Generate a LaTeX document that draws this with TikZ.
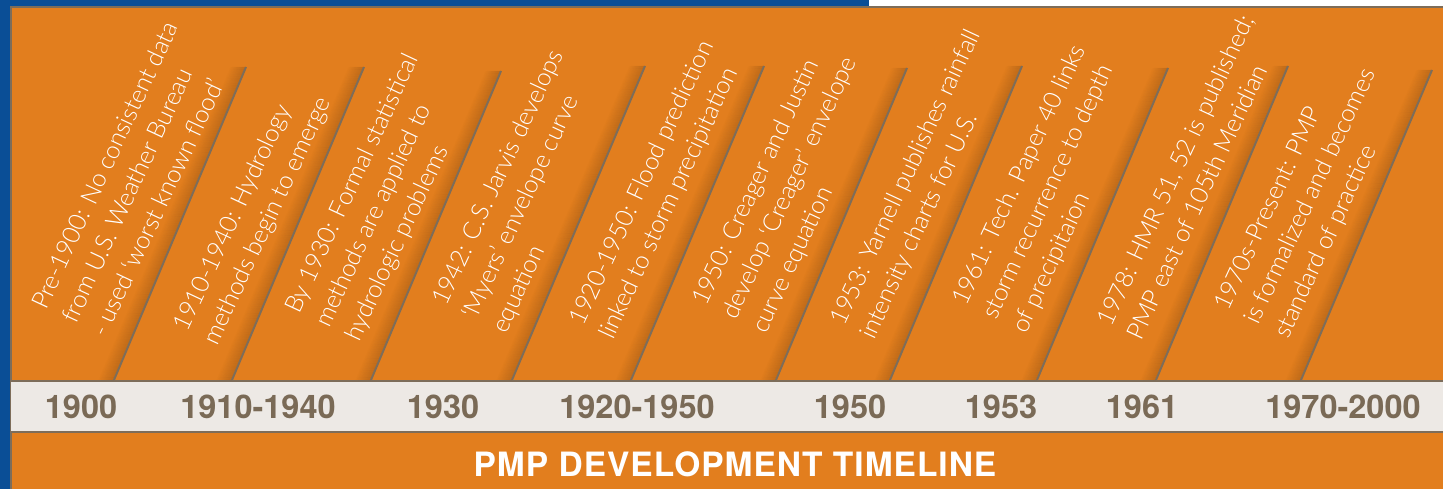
\documentclass[tikz,border=0pt]{standalone}
\usepackage{fontspec}
\usetikzlibrary{calc}
\newfontfamily\notefont{Lato Light}
\newfontfamily\headfont{TeX Gyre Heros}[UprightFont=*,BoldFont=* Bold]
\newfontfamily\titlefont{TeX Gyre Heros Bold}[LetterSpace=3]
\definecolor{frameblue}{HTML}{0A4E96}
\definecolor{panelorange}{HTML}{E27E1E}
\definecolor{rulegray}{HTML}{7D6D5A}
\definecolor{bandgray}{HTML}{EDE9E5}
\definecolor{yeargray}{HTML}{7A6A56}
\tikzset{
  % notes are anchored at the start of their last line
  note/.style={rotate=65, anchor=base west, inner sep=0pt, align=left,
    text=white, font=\notefont\fontsize{24.5}{33}\selectfont},
  year/.style={anchor=base, inner sep=0pt, text=yeargray,
    font=\headfont\bfseries\fontsize{32.5}{34}\selectfont},
  divider/.style={draw=rulegray, line width=2pt},
  title/.style={anchor=base, inner sep=0pt, text=white,
    font=\titlefont\fontsize{33.5}{36}\selectfont}
}
\begin{document}
\begin{tikzpicture}[x=1pt,y=-1pt]
  \useasboundingbox (0,0) rectangle (1443,489);
  % frame: white strip, blue corner band, orange panel
  \fill[white] (0,0) rectangle (1443,489);
  \fill[frameblue] (0,0) rectangle (869,7);
  \fill[frameblue] (0,0) rectangle (11,489);
  \fill[panelorange] (11,7) rectangle (1443,489);
  \draw[rulegray, line width=1.6pt] (11,489) -- (11,7) -- (1443,7);
  % year band
  \fill[bandgray] (11,381) rectangle (1443,432);
  \draw[rulegray, line width=2pt] (11,381) -- (1443,381);
  \draw[rulegray, line width=2pt] (11,432) -- (1443,432);
  % slanted separators: bottom and top ends
  \foreach \i/\bx/\tx/\ty in {1/114/246/67, 2/232/364/67, 3/371/501/71,
      4/512/645/66, 5/631/764/66, 6/776/907/68, 7/890/1022/66,
      8/1037/1168/68, 9/1156/1288/66, 10/1301/1432/70} {
    \coordinate (b\i) at (\bx,380);
    \coordinate (t\i) at (\tx,\ty);
  }
  % soft shadows on the left of each separator
  \foreach \i in {1,...,10} {
    \foreach \k in {1,...,15} {
      \draw[black, line width=1.3pt, opacity={0.10*(1-\k/16)}]
        ($(b\i)+(-\k,0)$) -- ($(t\i)+(-\k,0)$);
    }
  }
  \foreach \i in {1,...,10} {
    \draw[divider] (b\i) -- (t\i);
  }
  % milestone notes
  \node[note] (n1) at (106,339) {Pre-1900: No consistent data\\from U.S. Weather Bureau\\- used ‘worst known flood’};
  \node[note] (n2) at (217,347) {1910-1940: Hydrology\\methods begin to emerge};
  \node[note] (n3) at (359,343) {By 1930: Formal statistical\\methods are applied to\\hydrologic problems};
  \node[note] (n4) at (506,335) {1942: C.S. Jarvis develops\\‘Myers’ envelope curve\\equation};
  \node[note] (n5) at (613,341) {1920-1950: Flood prediction\\linked to storm precipitation};
  \node[note] (n6) at (766,335) {1950: Creager and Justin\\develop ‘Creager’ envelope\\curve equation};
  \node[note] (n7) at (874,341) {1953: Yarnell publishes rainfall\\intensity charts for U.S.};
  \node[note] (n8) at (1026,335) {1961: Tech. Paper 40 links\\storm recurrence to depth\\of precipitaion};
  \node[note] (n9) at (1141,342) {1978: HMR 51, 52 is published;\\PMP east of 105th Meridian};
  \node[note] (n10) at (1288,340) {1970s-Present: PMP\\is formalized and becomes\\standard of practice};
  % years
  \node[year] (y1) at (81,418) {1900};
  \node[year] (y2) at (258,418) {1910-1940};
  \node[year] (y3) at (443,418) {1930};
  \node[year] (y4) at (637,418) {1920-1950};
  \node[year] (y5) at (850,418) {1950};
  \node[year] (y6) at (1001,418) {1953};
  \node[year] (y7) at (1142,418) {1961};
  \node[year] (y8) at (1343,418) {1970-2000};
  % title
  \node[title] (ttl) at (735,476) {PMP DEVELOPMENT TIMELINE};
\end{tikzpicture}
\end{document}
